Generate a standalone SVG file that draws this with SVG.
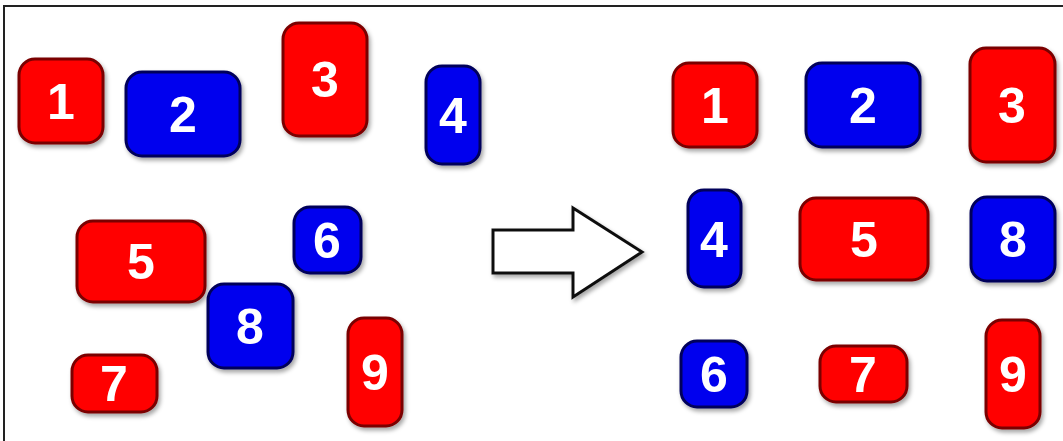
<svg xmlns="http://www.w3.org/2000/svg" width="1063" height="441" viewBox="0 0 1063 441">
<defs>
<filter id="sh" x="-20%" y="-20%" width="140%" height="140%">
<feDropShadow dx="2" dy="3" stdDeviation="2" flood-color="#000" flood-opacity="0.35"/>
</filter>
<style>
.r{fill:#ff0000;stroke:#7a0000;stroke-width:3;filter:url(#sh)}
.b{fill:#0000ee;stroke:#00005a;stroke-width:3;filter:url(#sh)}
.t{fill:#ffffff;font-family:"Liberation Sans",Arial,sans-serif;font-weight:bold;font-size:50px;text-anchor:middle}
.frame{stroke:#222;stroke-width:2;fill:none}
</style>
</defs>
<rect width="1063" height="441" fill="#ffffff"/>
<path class="frame" d="M4,441 V6 H1063"/>
<g id="L1"><rect class="r" x="19" y="59" width="84" height="84" rx="16"/><text class="t" x="61" y="119">1</text></g>
<g id="L2"><rect class="b" x="126" y="72" width="114" height="84" rx="16"/><text class="t" x="183" y="132">2</text></g>
<g id="L3"><rect class="r" x="283" y="23" width="84" height="113" rx="16"/><text class="t" x="325" y="97">3</text></g>
<g id="L4"><rect class="b" x="426" y="66" width="54" height="98" rx="16"/><text class="t" x="453" y="133">4</text></g>
<g id="L5"><rect class="r" x="77" y="221" width="128" height="81" rx="16"/><text class="t" x="141" y="279">5</text></g>
<g id="L6"><rect class="b" x="294" y="207" width="67" height="66" rx="16"/><text class="t" x="327" y="258">6</text></g>
<g id="L8"><rect class="b" x="208" y="284" width="85" height="84" rx="16"/><text class="t" x="250" y="344">8</text></g>
<g id="L7"><rect class="r" x="72" y="355" width="85" height="57" rx="16"/><text class="t" x="114" y="401">7</text></g>
<g id="L9"><rect class="r" x="348" y="318" width="54" height="108" rx="16"/><text class="t" x="375" y="390">9</text></g>
<g id="connectors">
<polygon points="493,230 573,230 573,208 642,252 573,297 573,273 493,273" fill="#ffffff" stroke="#111" stroke-width="3" stroke-linejoin="miter" filter="url(#sh)"/>
</g>
<g id="R1"><rect class="r" x="673" y="63" width="84" height="84" rx="16"/><text class="t" x="715" y="123">1</text></g>
<g id="R2"><rect class="b" x="806" y="63" width="114" height="84" rx="16"/><text class="t" x="863" y="123">2</text></g>
<g id="R3"><rect class="r" x="970" y="48" width="85" height="114" rx="16"/><text class="t" x="1012" y="123">3</text></g>
<g id="R4"><rect class="b" x="688" y="190" width="53" height="97" rx="16"/><text class="t" x="714" y="257">4</text></g>
<g id="R5"><rect class="r" x="800" y="198" width="128" height="82" rx="16"/><text class="t" x="864" y="257">5</text></g>
<g id="R8"><rect class="b" x="971" y="197" width="84" height="84" rx="16"/><text class="t" x="1013" y="257">8</text></g>
<g id="R6"><rect class="b" x="681" y="341" width="66" height="66" rx="16"/><text class="t" x="714" y="392">6</text></g>
<g id="R7"><rect class="r" x="820" y="346" width="87" height="56" rx="16"/><text class="t" x="863" y="392">7</text></g>
<g id="R9"><rect class="r" x="986" y="320" width="54" height="108" rx="16"/><text class="t" x="1013" y="392">9</text></g>
</svg>
